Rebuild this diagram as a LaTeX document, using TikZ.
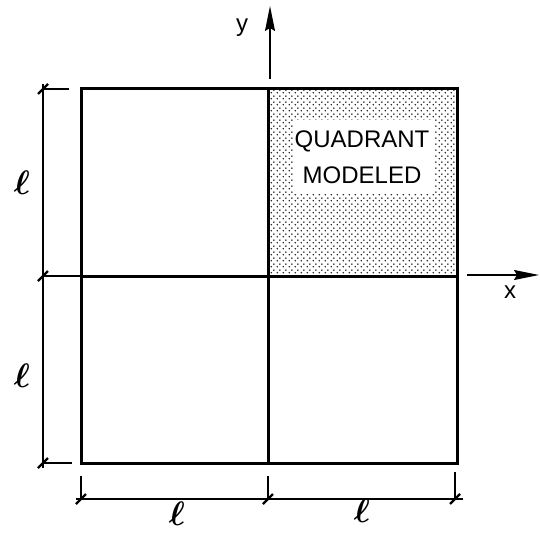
\documentclass[tikz,border=0pt]{standalone}
\usepackage{fontspec}
\setmainfont{Liberation Sans}
\usetikzlibrary{patterns,arrows.meta}
\pgfdeclarepatternformonly{quaddots}{\pgfpointorigin}{\pgfqpoint{6pt}{6pt}}{\pgfqpoint{6pt}{6pt}}{%
  \pgfpathcircle{\pgfqpoint{1.5pt}{1.5pt}}{0.95pt}%
  \pgfpathcircle{\pgfqpoint{4.5pt}{4.5pt}}{0.95pt}%
  \pgfusepath{fill}}
\begin{document}
\begin{tikzpicture}[x=1pt,y=-1pt,
  edge/.style={line width=3pt},
  dimline/.style={line width=1.6pt},
  axisline/.style={line width=1.4pt},
  tick/.style={line width=2.2pt},
  lbl/.style={font=\fontsize{24}{26}\selectfont},
  ell/.style={font=\boldmath, scale=3.4, inner sep=0pt}]
\useasboundingbox (0,0) rectangle (540,532);
% coordinates
\coordinate (TL) at (81,89);
\coordinate (TR) at (457,89);
\coordinate (BL) at (81,463);
\coordinate (BR) at (457,463);
\coordinate (TM) at (268,89);
\coordinate (BM) at (268,463);
\coordinate (ML) at (81,276);
\coordinate (MR) at (457,276);
\coordinate (C) at (268,276);
% shaded quadrant
\fill[pattern=quaddots, pattern color=black!90] (TM) rectangle (MR);
\node[fill=white, inner sep=0pt, minimum width=142pt, minimum height=74pt] (box) at (364,157) {};
\node[lbl, align=center, inner sep=0pt] (qm) at (362,157) {QUADRANT\\[10pt]MODELED};
% square
\draw[edge] (TL) rectangle (BR);
\draw[edge] (TM) -- (BM);
\draw[edge] (ML) -- (MR);
% axes
\coordinate (ytip) at (270,6);
\coordinate (xtip) at (539,275);
\coordinate (ystart) at (270,79);
\coordinate (xstart) at (467,275);
\draw[axisline, -{Stealth[length=25pt,width=10pt,inset=3pt]}] (ystart) -- (ytip);
\draw[axisline, -{Stealth[length=25pt,width=10pt,inset=3pt]}] (xstart) -- (xtip);
\node[lbl] (ylab) at (242,28) {y};
\node[lbl] (xlab) at (510,292) {x};
% left dimension
\coordinate (L1) at (43,89);
\coordinate (L2) at (43,276);
\coordinate (L3) at (43,463);
\draw[dimline] (43,84) -- (43,468);
\draw[dimline] (L1) -- (69,89);
\draw[dimline] (L2) -- (ML);
\draw[dimline] (L3) -- (72,463);
\foreach \p in {L1,L2,L3} \draw[tick] ([shift={(-5,5)}]\p) -- ([shift={(5,-5)}]\p);
\node[ell] (l1) at (22,183) {$\ell$};
\node[ell] (l2) at (22,376) {$\ell$};
% bottom dimension
\coordinate (B1) at (81,499);
\coordinate (B2) at (268,499);
\coordinate (B3) at (455,499);
\draw[dimline] (76,499) -- (463,499);
\draw[dimline] (81,476) -- (B1);
\draw[dimline] (268,476) -- (B2);
\draw[dimline] (455,472) -- (B3);
\foreach \p in {B1,B2,B3} \draw[tick] ([shift={(-5,5)}]\p) -- ([shift={(5,-5)}]\p);
\node[ell] (l3) at (177,514) {$\ell$};
\node[ell] (l4) at (362,511) {$\ell$};
\end{tikzpicture}
\end{document}
